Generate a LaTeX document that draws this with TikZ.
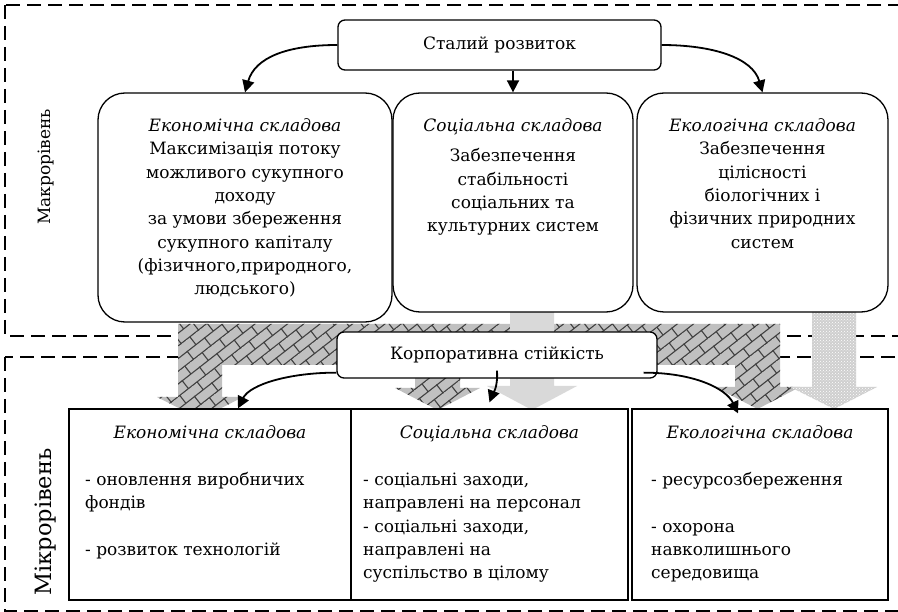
\documentclass[tikz,border=0pt]{standalone}
\usepackage{fontspec}
\setmainfont{DejaVu Serif}
\usetikzlibrary{arrows.meta,patterns,patterns.meta}

\pgfdeclarepattern{
  name=diagbricks,
  bottom left={\pgfpoint{-.6pt}{-.6pt}},
  top right={\pgfpoint{22.6pt}{20.6pt}},
  tile size={\pgfpoint{22pt}{20pt}},
  tile transformation={\pgftransformrotate{38}},
  code={
    \pgfsetlinewidth{1.1pt}
    \pgfpathmoveto{\pgfpoint{-.6pt}{0pt}}\pgfpathlineto{\pgfpoint{22.6pt}{0pt}}
    \pgfpathmoveto{\pgfpoint{-.6pt}{10pt}}\pgfpathlineto{\pgfpoint{22.6pt}{10pt}}
    \pgfpathmoveto{\pgfpoint{0pt}{0pt}}\pgfpathlineto{\pgfpoint{0pt}{10pt}}
    \pgfpathmoveto{\pgfpoint{11pt}{10pt}}\pgfpathlineto{\pgfpoint{11pt}{20pt}}
    \pgfusepath{stroke}
  }
}

\definecolor{brickfill}{HTML}{C0C0C0}
\definecolor{brickline}{HTML}{404040}
\definecolor{lightarrow}{HTML}{D9D9D9}
\definecolor{dotfill}{HTML}{CFCFCF}

\newcommand\dtxt{\fontsize{17}{23.3}\selectfont}

\tikzset{
  frame/.style={dash pattern=on 14pt off 7pt, line width=1.4pt},
  macrobox/.style={draw, line width=1.3pt, rounded corners=27pt, fill=white, inner sep=0pt},
  topbox/.style={draw, line width=1.3pt, rounded corners=7pt, fill=white, inner sep=0pt, font=\dtxt},
  microbox/.style={draw, line width=1.3pt, fill=white, inner sep=0pt},
  txt/.style={font=\dtxt, inner sep=0pt},
  conn/.style={line width=1.8pt, -{Triangle[length=12pt,width=12pt]}},
  bricks/.style={preaction={fill=brickfill}, pattern=diagbricks, pattern color=brickline},
  dotted arrow/.style={preaction={fill=dotfill}, pattern=crosshatch dots, pattern color=white},
}

\begin{document}
\begin{tikzpicture}[x=1pt,y=-1pt]
\useasboundingbox (0,0) rectangle (898,612);
\clip (0,0) rectangle (898,612);
\fill[white] (0,0) rectangle (898,612);

% level frames
\draw[frame] (5,5) rectangle (910,336);
\draw[frame] (5,357) rectangle (910,611);

% big hatched arrow
\path[bricks] (178,324) -- (780,324) -- (780,387) -- (800,387) -- (757.5,409) -- (715,387)
  -- (735,387) -- (735,365) -- (460,365) -- (460,388) -- (480,388) -- (437.5,410)
  -- (395,388) -- (415,388) -- (415,365) -- (222,365) -- (222,397) -- (243,397)
  -- (200,419) -- (157,397) -- (178,397) -- cycle;
% light gray arrow
\fill[lightarrow] (510,312) -- (554,312) -- (554,386) -- (577,386) -- (532,410)
  -- (487,386) -- (510,386) -- cycle;
% dotted arrow
\path[dotted arrow] (812,312) -- (856,312) -- (856,387) -- (877,387) -- (834,409)
  -- (790,387) -- (812,387) -- cycle;

% labels of levels
\node[txt, rotate=90] (makro) at (46,167) {Макрорівень};
\node[font=\fontsize{22.5}{24}\selectfont, inner sep=0pt, rotate=90] (mikro) at (46,522) {Мікрорівень};

% macro level
\node[topbox, minimum width=323pt, minimum height=50pt] (sr) at (499.5,45) {Сталий розвиток};
\node[macrobox, minimum width=294pt, minimum height=229pt] (me) at (245,207.5) {};
\node[macrobox, minimum width=240pt, minimum height=219pt] (ms) at (513,202.5) {};
\node[macrobox, minimum width=251pt, minimum height=219pt] (mn) at (762.5,202.5) {};

\node[txt, align=center, anchor=north] (met) at (245,115)
  {\strut\textit{Економічна складова}\\Максимізація потоку\\можливого сукупного\\доходу\\за умови збереження\\сукупного капіталу\\(фізичного,природного,\\людського)};
\node[txt, align=center, anchor=north] (mst) at (513,115)
  {\strut\textit{Соціальна складова}\\[7pt]Забезпечення\\стабільності\\соціальних та\\культурних систем};
\node[txt, align=center, anchor=north] (mnt) at (762.5,115)
  {\strut\textit{Екологічна складова}\\Забезпечення\\цілісності\\біологічних і\\фізичних природних\\систем};

% corporate node
\node[topbox, minimum width=320pt, minimum height=46pt] (kc) at (497,355) {Корпоративна стійкість};

% micro level
\node[microbox, minimum width=282pt, minimum height=191pt] (be) at (210,504.5) {};
\node[microbox, minimum width=277pt, minimum height=191pt] (bm) at (489.5,504.5) {};
\node[microbox, minimum width=256pt, minimum height=191pt] (br) at (760,504.5) {};

\node[txt, anchor=north] (bet) at (210,422) {\strut\textit{Економічна складова}};
\node[txt, anchor=north] (bmt) at (489.5,422) {\strut\textit{Соціальна складова}};
\node[txt, anchor=north] (brt) at (760,422) {\strut\textit{Екологічна складова}};

\node[txt, align=left, anchor=north west] (beb) at (85,469)
  {\strut- оновлення виробничих\\фондів\\[23.3pt]- розвиток технологій};
\node[txt, align=left, anchor=north west] (bmb) at (363,469)
  {\strut- соціальні заходи,\\направлені на персонал\\- соціальні заходи,\\направлені на\\суспільство в цілому};
\node[txt, align=left, anchor=north west] (brb) at (651,469)
  {\strut- ресурсозбереження\\[23.3pt]- охорона\\навколишнього\\середовища};

% connectors
\draw[conn] (sr.west) .. controls +(-50,0) and +(10,-35) .. (me.north);
\draw[conn] (sr.south -| ms.north) -- (ms.north);
\draw[conn] (sr.east) .. controls +(50,0) and +(-10,-35) .. (mn.north);

\draw[conn] ([yshift=6pt]kc.south west) .. controls +(-47,0) and +(12,-24) .. ([xshift=28pt]be.north);
\draw[conn] ([yshift=8pt]kc.south) .. controls +(1,18) and +(3,-8) .. ([yshift=6pt]bm.north);
\draw[conn] ([xshift=-14pt,yshift=6pt]kc.south east) .. controls +(50,0) and +(-12,-25) .. ([xshift=-22pt,yshift=-5pt]br.north);
\end{tikzpicture}
\end{document}
